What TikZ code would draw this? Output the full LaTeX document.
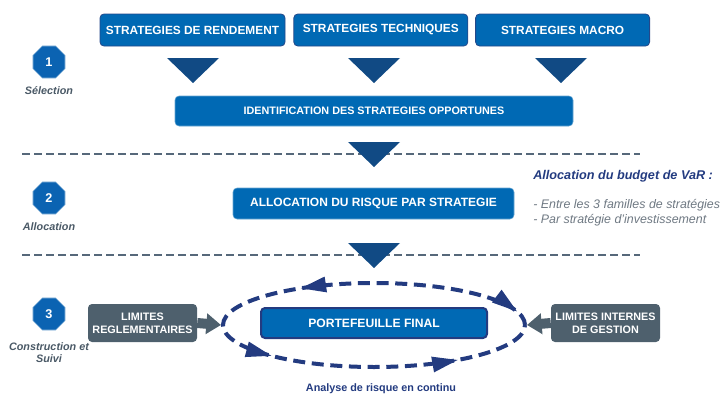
\documentclass[tikz,border=0pt]{standalone}
\usepackage{fontspec}
\setmainfont{Liberation Sans}
\usetikzlibrary{arrows.meta,
                positioning,
                calc,
                shapes.geometric,
                decorations.markings}
\definecolor{boxblue}{HTML}{0069B4}
\definecolor{boxline}{HTML}{24488A}
\definecolor{trinavy}{HTML}{114A84}
\definecolor{stepblue}{HTML}{0B63B2}
\definecolor{limgray}{HTML}{4E606D}
\definecolor{sepgray}{HTML}{56687A}
\definecolor{labelgray}{HTML}{4A5966}
\definecolor{cyclenavy}{HTML}{233B80}
\definecolor{notegray}{HTML}{6E7882}
\tikzset{
      base/.style = {rounded corners=3pt, text=white, align=center,
                     inner sep=0pt, font=\bfseries\fontsize{8.9}{10}\selectfont},
     strat/.style = {base, fill=boxblue, draw=boxline, semithick,
                     minimum width=130.5pt, minimum height=24pt},   % <--- top row
      wide/.style = {base, fill=boxblue, draw=boxblue!60!white, thin,
                     minimum height=22.5pt},
     final/.style = {base, fill=boxblue, draw=cyclenavy, line width=1.5pt,
                     minimum width=169.5pt, minimum height=22.5pt,
                     font=\bfseries\fontsize{9.1}{10}\selectfont},
    limbox/.style = {base, fill=limgray, minimum width=81.75pt, minimum height=28.5pt,
                     font=\bfseries\fontsize{8.1}{10}\selectfont},
  limarrow/.style = {limgray, line width=7.5pt, -{Triangle[length=11pt,width=15pt]}},
   stepnum/.style = {regular polygon, regular polygon sides=8, minimum size=26pt,
                     inner sep=0pt, fill=stepblue, draw=stepblue!45!white, thin,
                     text=white, font=\bfseries\fontsize{9.5}{10}\selectfont},
 steplabel/.style = {text=labelgray, align=center, inner sep=0pt,
                     font=\bfseries\itshape\fontsize{8.1}{9}\selectfont},
       sep/.style = {sepgray, line width=2pt, dash pattern=on 6pt off 3pt},
       tri/.style = {fill=trinavy},
 cyclenode/.style = {ellipse, minimum width=226.5pt, minimum height=63pt, inner sep=0pt,
                     draw=cyclenavy, line width=3pt, dash pattern=on 9pt off 5pt,
                     postaction={decorate, decoration={markings,
                       mark=at position 0.027 with {\fill[cyclenavy] (-1pt,0pt) -- (18pt,6pt) -- (18pt,-6pt) -- cycle;},
                       mark=at position 0.360 with {\fill[cyclenavy] (1pt,0pt) -- (-18pt,6pt) -- (-18pt,-6pt) -- cycle;},
                       mark=at position 0.590 with {\fill[cyclenavy] (1pt,0pt) -- (-18pt,6pt) -- (-18pt,-6pt) -- cycle;},
                       mark=at position 0.876 with {\fill[cyclenavy] (1pt,0pt) -- (-18pt,6pt) -- (-18pt,-6pt) -- cycle;}}}},
}

\begin{document}
\begin{tikzpicture}[x=0.75pt, y=-0.75pt]
\useasboundingbox (0,0) rectangle (725,396);

  % dashed separators
  \draw[sep] (22,154) -- (640,154);
  \draw[sep] (22,255) -- (640,255);

  % stages on the left
  \node[stepnum] (N1) at (49,62) {1};
  \node[steplabel, below=6pt of N1] (L1) {Sélection};
  \node[stepnum] (N2) at (49,198) {2};
  \node[steplabel, below=6pt of N2] (L2) {Allocation};
  \node[stepnum] (N3) at (49,314) {3};
  \node[steplabel, below=9pt of N3] (L3) {Construction et\\Suivi};

  % strategies
  \node[strat, minimum width=138.75pt] (S1) at (192.5,30) {STRATEGIES DE RENDEMENT};
  \node[strat, right=6pt of S1] (S2) {STRATEGIES TECHNIQUES};
  \node[strat, right=5.25pt of S2] (S3) {STRATEGIES MACRO};

  \node[wide, minimum width=298.5pt, font=\bfseries\fontsize{8.1}{10}\selectfont]
       (ID) at (374,111) {IDENTIFICATION DES STRATEGIES OPPORTUNES};
  \node[wide, minimum width=210.75pt, minimum height=23.25pt, font=\bfseries\fontsize{9}{10}\selectfont]
       (AL) at (373.5,203.5) {ALLOCATION DU RISQUE PAR STRATEGIE};

  % down triangles
  \foreach \x/\y in {193/58, 374/58, 561/58, 374/142, 374/243}
    \fill[tri] (\x-26,\y) -- (\x+26,\y) -- (\x,\y+25) -- cycle;

  % VaR budget note
  \node[anchor=west, inner sep=0pt, text=cyclenavy,
        font=\bfseries\itshape\fontsize{9.5}{11}\selectfont]
       (VH) at (533,176) {Allocation du budget de VaR :};
  \node[anchor=west, inner sep=0pt, text=notegray, align=left,
        font=\itshape\fontsize{9.3}{11.25}\selectfont]
       (VL) at (533,212.5) {- Entre les 3 familles de stratégies\\- Par stratégie d’investissement};

  % construction
  \node[cyclenode] (C) at (374,325) {};
  \node[final] (PF) at (374,323) {PORTEFEUILLE FINAL};
  \node[limbox] (LR) at (142.5,323) {LIMITES\\REGLEMENTAIRES};
  \node[limbox] (LI) at (605.5,323) {LIMITES INTERNES\\DE GESTION};
  \draw[limarrow] (LR.east) -- (C.west);
  \draw[limarrow] (LI.west) -- (C.east);
  \node[text=cyclenavy, inner sep=0pt, font=\bfseries\fontsize{8.1}{10}\selectfont]
       (AN) at (381,389) {Analyse de risque en continu};
\end{tikzpicture}
\end{document}
